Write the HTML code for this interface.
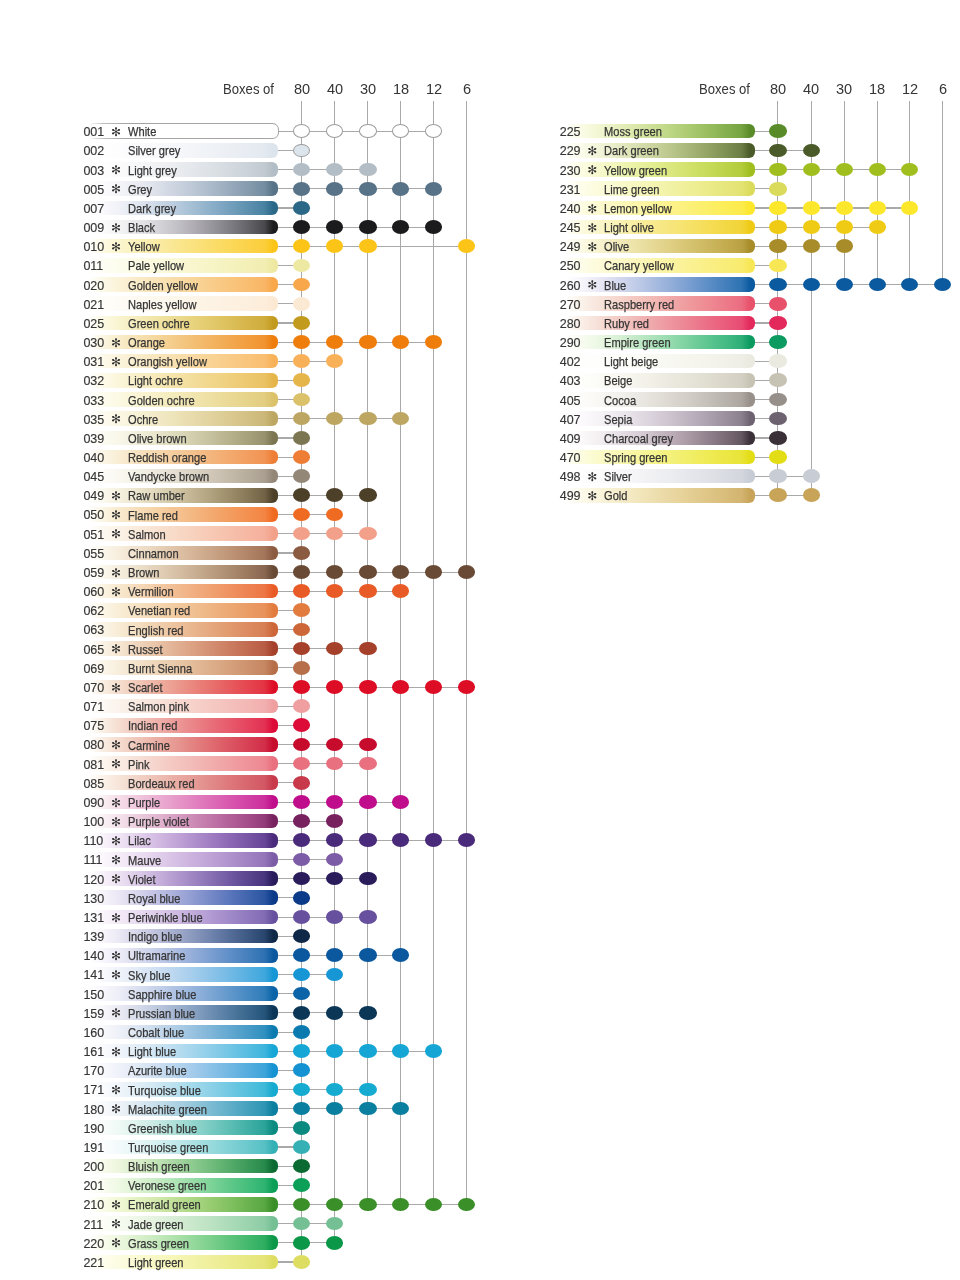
<!DOCTYPE html>
<html><head><meta charset="utf-8"><title>Colour chart</title>
<style>
html,body{margin:0;padding:0;background:#fff;}
body{width:960px;height:1280px;position:relative;overflow:hidden;font-family:"Liberation Sans",Arial,sans-serif;color:#353535;}
div,svg{position:absolute;}
.hd{top:79px;font-size:15.5px;line-height:19px;white-space:nowrap;}
.bx{transform:scaleX(0.845);transform-origin:100% 0;}
.hn{width:30px;text-align:center;transform:scaleX(0.94);transform-origin:50% 0;}
.vl{width:1.1px;background:#a9a9a9;}
.hl{height:1.1px;background:#a9a9a9;}
.bar{width:190.4px;height:14.6px;border-radius:6px;}
.wbar{height:16px!important;width:191.4px!important;border-radius:6.5px!important;background:linear-gradient(90deg,rgba(165,165,165,0) 0%,rgba(165,165,165,.7) 8%,#a5a5a5 20%,#a5a5a5 100%);}
.wbi{left:1.1px;top:1.1px;right:1.1px;bottom:1.1px;background:#fff;border-radius:5.5px;}
.num{-webkit-text-stroke:0.15px #353535;font-size:12.5px;line-height:14px;white-space:nowrap;}
.nm{-webkit-text-stroke:0.25px #353535;font-size:12.4px;line-height:14px;white-space:nowrap;transform:scaleX(0.895);transform-origin:0 0;}
.dot{width:17.2px;height:13.7px;border-radius:50%;}
.st{font-family:"DejaVu Sans",sans-serif;font-size:12px;line-height:20px;color:#333;}
</style></head><body>

<div class="hd bx" style="left:153.5px;width:120px;text-align:right;">Boxes of</div>
<div class="hd hn" style="left:286.7px;">80</div>
<div class="hd hn" style="left:319.9px;">40</div>
<div class="hd hn" style="left:353px;">30</div>
<div class="hd hn" style="left:385.9px;">18</div>
<div class="hd hn" style="left:418.6px;">12</div>
<div class="hd hn" style="left:451.5px;">6</div>
<div class="vl" style="left:301.1px;top:101px;height:1160.88px;"></div>
<div class="vl" style="left:334.3px;top:101px;height:1141.71px;"></div>
<div class="vl" style="left:367.4px;top:101px;height:1103.38px;"></div>
<div class="vl" style="left:400.3px;top:101px;height:1103.38px;"></div>
<div class="vl" style="left:433px;top:101px;height:1103.38px;"></div>
<div class="vl" style="left:465.9px;top:101px;height:1103.38px;"></div>
<div class="hl" style="left:277.4px;top:130.8px;width:156.2px;"></div>
<div class="bar wbar" style="left:87.5px;top:123.3px;"><div class="wbi"></div></div>
<div class="num" style="left:83.4px;top:125.2px;">001</div>
<div class="st" style="left:111px;top:121.9px;">&#x273B;</div>
<div class="nm" style="left:128px;top:125.3px;">White</div>
<div class="dot" style="left:293.1px;top:124.35px;background:#ffffff;border:1px solid #9c9c9c;box-sizing:border-box;"></div>
<div class="dot" style="left:326.3px;top:124.35px;background:#ffffff;border:1px solid #9c9c9c;box-sizing:border-box;"></div>
<div class="dot" style="left:359.4px;top:124.35px;background:#ffffff;border:1px solid #9c9c9c;box-sizing:border-box;"></div>
<div class="dot" style="left:392.3px;top:124.35px;background:#ffffff;border:1px solid #9c9c9c;box-sizing:border-box;"></div>
<div class="dot" style="left:425px;top:124.35px;background:#ffffff;border:1px solid #9c9c9c;box-sizing:border-box;"></div>
<div class="hl" style="left:277.4px;top:149.96px;width:24.3px;"></div>
<div class="bar" style="left:88px;top:143.06px;background:linear-gradient(90deg,#ffffff 0%,#fefeff 8%,#fdfdfe 16%,#fbfbfd 25%,#f9f9fc 35%,#f6f7fa 45%,#f3f5f8 55%,#eff2f6 65%,#ebeff4 75%,#e7ecf2 85%,#e3e9f0 93%,#dce4ec 97.5%);"></div>
<div class="num" style="left:83.4px;top:144.36px;">002</div>
<div class="nm" style="left:128px;top:144.46px;">Silver grey</div>
<div class="dot" style="left:293.1px;top:143.51px;background:#dce4ec;border:1px solid #9c9c9c;box-sizing:border-box;"></div>
<div class="hl" style="left:277.4px;top:169.13px;width:90.6px;"></div>
<div class="bar" style="left:88px;top:162.23px;background:linear-gradient(90deg,#ffffff 0%,#fefefe 8%,#fbfbfc 16%,#f7f8f9 25%,#f2f3f5 35%,#eceef1 45%,#e4e7eb 55%,#dce1e5 65%,#d3d9df 75%,#cad1d8 85%,#c2cad1 93%,#b3bdc5 97.5%);"></div>
<div class="num" style="left:83.4px;top:163.53px;">003</div>
<div class="st" style="left:111px;top:160.23px;">&#x273B;</div>
<div class="nm" style="left:128px;top:163.63px;">Light grey</div>
<div class="dot" style="left:293.1px;top:162.68px;background:#b3bdc5;"></div>
<div class="dot" style="left:326.3px;top:162.68px;background:#b3bdc5;"></div>
<div class="dot" style="left:359.4px;top:162.68px;background:#b3bdc5;"></div>
<div class="hl" style="left:277.4px;top:188.29px;width:156.2px;"></div>
<div class="bar" style="left:88px;top:181.39px;background:linear-gradient(90deg,#ffffff 0%,#fbfbfd 8%,#f5f5f9 16%,#ebedf3 25%,#dee2ea 35%,#ced5e1 45%,#bdc8d6 55%,#abbaca 65%,#97aabc 75%,#849aad 85%,#748da0 93%,#587387 97.5%);"></div>
<div class="num" style="left:83.4px;top:182.69px;">005</div>
<div class="st" style="left:111px;top:179.39px;">&#x273B;</div>
<div class="nm" style="left:128px;top:182.79px;">Grey</div>
<div class="dot" style="left:293.1px;top:181.84px;background:#587387;"></div>
<div class="dot" style="left:326.3px;top:181.84px;background:#587387;"></div>
<div class="dot" style="left:359.4px;top:181.84px;background:#587387;"></div>
<div class="dot" style="left:392.3px;top:181.84px;background:#587387;"></div>
<div class="dot" style="left:425px;top:181.84px;background:#587387;"></div>
<div class="hl" style="left:277.4px;top:207.46px;width:24.3px;"></div>
<div class="bar" style="left:88px;top:200.56px;background:linear-gradient(90deg,#ffffff 0%,#faf9fc 8%,#f0f2f8 16%,#e2e8f1 25%,#d0dbe9 35%,#bbcddf 45%,#a4bfd4 55%,#8cafc9 65%,#739fbc 75%,#5b8fad 85%,#4982a1 93%,#2b6888 97.5%);"></div>
<div class="num" style="left:83.4px;top:201.86px;">007</div>
<div class="nm" style="left:128px;top:201.96px;">Dark grey</div>
<div class="dot" style="left:293.1px;top:201.01px;background:#2b6888;"></div>
<div class="hl" style="left:277.4px;top:226.62px;width:156.2px;"></div>
<div class="bar" style="left:88px;top:219.72px;background:linear-gradient(90deg,#ffffff 0%,#fcfbfc 8%,#f4f4f5 16%,#e9e8eb 25%,#d9d8dc 35%,#c6c5ca 45%,#b1afb5 55%,#98979d 65%,#7e7d83 75%,#616166 85%,#49494d 93%,#1b1b1d 97.5%);"></div>
<div class="num" style="left:83.4px;top:221.02px;">009</div>
<div class="st" style="left:111px;top:217.72px;">&#x273B;</div>
<div class="nm" style="left:128px;top:221.12px;">Black</div>
<div class="dot" style="left:293.1px;top:220.17px;background:#1b1b1d;"></div>
<div class="dot" style="left:326.3px;top:220.17px;background:#1b1b1d;"></div>
<div class="dot" style="left:359.4px;top:220.17px;background:#1b1b1d;"></div>
<div class="dot" style="left:392.3px;top:220.17px;background:#1b1b1d;"></div>
<div class="dot" style="left:425px;top:220.17px;background:#1b1b1d;"></div>
<div class="hl" style="left:277.4px;top:245.78px;width:189.1px;"></div>
<div class="bar" style="left:88px;top:238.88px;background:linear-gradient(90deg,#ffffff 0%,#fdfae3 8%,#fbf6d0 16%,#faf1bc 25%,#faeca8 35%,#fae793 45%,#fae280 55%,#fadd6c 65%,#fbd85a 75%,#fbd248 85%,#fbce3b 93%,#fbc417 97.5%);"></div>
<div class="num" style="left:83.4px;top:240.18px;">010</div>
<div class="st" style="left:111px;top:236.88px;">&#x273B;</div>
<div class="nm" style="left:128px;top:240.28px;">Yellow</div>
<div class="dot" style="left:293.1px;top:239.33px;background:#fbc417;"></div>
<div class="dot" style="left:326.3px;top:239.33px;background:#fbc417;"></div>
<div class="dot" style="left:359.4px;top:239.33px;background:#fbc417;"></div>
<div class="dot" style="left:457.9px;top:239.33px;background:#fbc417;"></div>
<div class="hl" style="left:277.4px;top:264.95px;width:24.3px;"></div>
<div class="bar" style="left:88px;top:258.05px;background:linear-gradient(90deg,#ffffff 0%,#fefef5 8%,#fdfdee 16%,#fcfce7 25%,#fbfadf 35%,#faf8d7 45%,#f9f6ce 55%,#f7f4c6 65%,#f5f2be 75%,#f3efb6 85%,#f2edb1 93%,#eee9a2 97.5%);"></div>
<div class="num" style="left:83.4px;top:259.35px;">011</div>
<div class="nm" style="left:128px;top:259.45px;">Pale yellow</div>
<div class="dot" style="left:293.1px;top:258.5px;background:#eee9a2;"></div>
<div class="hl" style="left:277.4px;top:284.11px;width:24.3px;"></div>
<div class="bar" style="left:88px;top:277.21px;background:linear-gradient(90deg,#ffffff 0%,#fcf9e8 8%,#fbf3d9 16%,#faecca 25%,#f9e4b9 35%,#f8ddaa 45%,#f8d59a 55%,#f9cd8b 65%,#f9c57d 75%,#f9bd70 85%,#f9b666 93%,#f8a74a 97.5%);"></div>
<div class="num" style="left:83.4px;top:278.51px;">020</div>
<div class="nm" style="left:128px;top:278.61px;">Golden yellow</div>
<div class="dot" style="left:293.1px;top:277.66px;background:#f8a74a;"></div>
<div class="hl" style="left:277.4px;top:303.28px;width:24.3px;"></div>
<div class="bar" style="left:88px;top:296.38px;background:linear-gradient(90deg,#ffffff 0%,#fefefa 8%,#fefcf6 16%,#fefaf3 25%,#fdf9ef 35%,#fdf7eb 45%,#fdf5e8 55%,#fdf3e4 65%,#fdf1e1 75%,#fdefdd 85%,#fdeddb 93%,#fce9d4 97.5%);"></div>
<div class="num" style="left:83.4px;top:297.68px;">021</div>
<div class="nm" style="left:128px;top:297.78px;">Naples yellow</div>
<div class="dot" style="left:293.1px;top:296.83px;background:#fce9d4;"></div>
<div class="hl" style="left:277.4px;top:322.44px;width:24.3px;"></div>
<div class="bar" style="left:88px;top:315.54px;background:linear-gradient(90deg,#ffffff 0%,#fcfae4 8%,#f9f4d1 16%,#f6edbd 25%,#f2e5a8 35%,#eddc93 45%,#e8d37e 55%,#e2c96b 65%,#dcbf59 75%,#d5b448 85%,#cfac3b 93%,#c29a1e 97.5%);"></div>
<div class="num" style="left:83.4px;top:316.84px;">025</div>
<div class="nm" style="left:128px;top:316.94px;">Green ochre</div>
<div class="dot" style="left:293.1px;top:315.99px;background:#c29a1e;"></div>
<div class="hl" style="left:277.4px;top:341.6px;width:156.2px;"></div>
<div class="bar" style="left:88px;top:334.7px;background:linear-gradient(90deg,#ffffff 0%,#fbf6e0 8%,#f9edcc 16%,#f7e3b6 25%,#f5d8a0 35%,#f4cc8a 45%,#f3c076 55%,#f3b462 65%,#f2a84f 75%,#f29c3d 85%,#f19330 93%,#ee7d0c 97.5%);"></div>
<div class="num" style="left:83.4px;top:336px;">030</div>
<div class="st" style="left:111px;top:332.7px;">&#x273B;</div>
<div class="nm" style="left:128px;top:336.1px;">Orange</div>
<div class="dot" style="left:293.1px;top:335.15px;background:#ee7d0c;"></div>
<div class="dot" style="left:326.3px;top:335.15px;background:#ee7d0c;"></div>
<div class="dot" style="left:359.4px;top:335.15px;background:#ee7d0c;"></div>
<div class="dot" style="left:392.3px;top:335.15px;background:#ee7d0c;"></div>
<div class="dot" style="left:425px;top:335.15px;background:#ee7d0c;"></div>
<div class="hl" style="left:277.4px;top:360.77px;width:57.5px;"></div>
<div class="bar" style="left:88px;top:353.87px;background:linear-gradient(90deg,#ffffff 0%,#fdf9ea 8%,#fbf4dd 16%,#faeece 25%,#f9e7bf 35%,#f9e1b1 45%,#f9daa2 55%,#f9d395 65%,#f9cb87 75%,#f9c47b 85%,#f9be71 93%,#f8b158 97.5%);"></div>
<div class="num" style="left:83.4px;top:355.17px;">031</div>
<div class="st" style="left:111px;top:351.87px;">&#x273B;</div>
<div class="nm" style="left:128px;top:355.27px;">Orangish yellow</div>
<div class="dot" style="left:293.1px;top:354.32px;background:#f8b158;"></div>
<div class="dot" style="left:326.3px;top:354.32px;background:#f8b158;"></div>
<div class="hl" style="left:277.4px;top:379.93px;width:24.3px;"></div>
<div class="bar" style="left:88px;top:373.03px;background:linear-gradient(90deg,#ffffff 0%,#fdfae9 8%,#fbf6db 16%,#f9f0cb 25%,#f7eabb 35%,#f5e4ab 45%,#f3dd9b 55%,#f1d68b 65%,#efcf7d 75%,#edc86f 85%,#eac264 93%,#e5b54a 97.5%);"></div>
<div class="num" style="left:83.4px;top:374.33px;">032</div>
<div class="nm" style="left:128px;top:374.43px;">Light ochre</div>
<div class="dot" style="left:293.1px;top:373.48px;background:#e5b54a;"></div>
<div class="hl" style="left:277.4px;top:399.1px;width:24.3px;"></div>
<div class="bar" style="left:88px;top:392.2px;background:linear-gradient(90deg,#ffffff 0%,#fdfcef 8%,#fcf9e3 16%,#faf5d7 25%,#f7f0c9 35%,#f4ebbc 45%,#f1e5af 55%,#eedfa2 65%,#ead995 75%,#e6d389 85%,#e2cd80 93%,#dbc26a 97.5%);"></div>
<div class="num" style="left:83.4px;top:393.5px;">033</div>
<div class="nm" style="left:128px;top:393.6px;">Golden ochre</div>
<div class="dot" style="left:293.1px;top:392.65px;background:#dbc26a;"></div>
<div class="hl" style="left:277.4px;top:418.26px;width:123.5px;"></div>
<div class="bar" style="left:88px;top:411.36px;background:linear-gradient(90deg,#ffffff 0%,#fdfbef 8%,#faf7e4 16%,#f7f2d7 25%,#f3ebc9 35%,#ede4ba 45%,#e8dbac 55%,#e1d29e 65%,#dac990 75%,#d2bf83 85%,#cbb778 93%,#bda662 97.5%);"></div>
<div class="num" style="left:83.4px;top:412.66px;">035</div>
<div class="st" style="left:111px;top:409.36px;">&#x273B;</div>
<div class="nm" style="left:128px;top:412.76px;">Ochre</div>
<div class="dot" style="left:293.1px;top:411.81px;background:#bda662;"></div>
<div class="dot" style="left:326.3px;top:411.81px;background:#bda662;"></div>
<div class="dot" style="left:359.4px;top:411.81px;background:#bda662;"></div>
<div class="dot" style="left:392.3px;top:411.81px;background:#bda662;"></div>
<div class="hl" style="left:277.4px;top:437.42px;width:24.3px;"></div>
<div class="bar" style="left:88px;top:430.52px;background:linear-gradient(90deg,#ffffff 0%,#fdfcf3 8%,#f8f7e9 16%,#f2f0dd 25%,#eae7ce 35%,#dfdbbe 45%,#d3cfae 55%,#c5c09d 65%,#b6b08b 75%,#a59f7a 85%,#97916d 93%,#7b7552 97.5%);"></div>
<div class="num" style="left:83.4px;top:431.82px;">039</div>
<div class="nm" style="left:128px;top:431.92px;">Olive brown</div>
<div class="dot" style="left:293.1px;top:430.97px;background:#7b7552;"></div>
<div class="hl" style="left:277.4px;top:456.59px;width:24.3px;"></div>
<div class="bar" style="left:88px;top:449.69px;background:linear-gradient(90deg,#ffffff 0%,#fcf6e6 8%,#f9eed5 16%,#f7e4c3 25%,#f6d9b0 35%,#f5cd9f 45%,#f4c18d 55%,#f3b57d 65%,#f3a96d 75%,#f29d5f 85%,#f19454 93%,#ee7e36 97.5%);"></div>
<div class="num" style="left:83.4px;top:450.99px;">040</div>
<div class="nm" style="left:128px;top:451.09px;">Reddish orange</div>
<div class="dot" style="left:293.1px;top:450.14px;background:#ee7e36;"></div>
<div class="hl" style="left:277.4px;top:475.75px;width:24.3px;"></div>
<div class="bar" style="left:88px;top:468.85px;background:linear-gradient(90deg,#ffffff 0%,#fdfcf8 8%,#faf8f1 16%,#f5f2e8 25%,#ede9de 35%,#e5dfd2 45%,#dbd4c5 55%,#d0c7b8 65%,#c3baaa 75%,#b6ac9c 85%,#aa9f90 93%,#938878 97.5%);"></div>
<div class="num" style="left:83.4px;top:470.15px;">045</div>
<div class="nm" style="left:128px;top:470.25px;">Vandycke brown</div>
<div class="dot" style="left:293.1px;top:469.3px;background:#938878;"></div>
<div class="hl" style="left:277.4px;top:494.92px;width:90.6px;"></div>
<div class="bar" style="left:88px;top:488.02px;background:linear-gradient(90deg,#ffffff 0%,#fbf9ee 8%,#f6f2e0 16%,#ede7d0 25%,#e1d8bc 35%,#d3c8a8 45%,#c3b593 55%,#b0a27e 65%,#9c8c69 75%,#857655 85%,#726346 93%,#4c4029 97.5%);"></div>
<div class="num" style="left:83.4px;top:489.32px;">049</div>
<div class="st" style="left:111px;top:486.02px;">&#x273B;</div>
<div class="nm" style="left:128px;top:489.42px;">Raw umber</div>
<div class="dot" style="left:293.1px;top:488.47px;background:#4c4029;"></div>
<div class="dot" style="left:326.3px;top:488.47px;background:#4c4029;"></div>
<div class="dot" style="left:359.4px;top:488.47px;background:#4c4029;"></div>
<div class="hl" style="left:277.4px;top:514.08px;width:57.5px;"></div>
<div class="bar" style="left:88px;top:507.18px;background:linear-gradient(90deg,#ffffff 0%,#fbf5e3 8%,#f9ebd0 16%,#f7dfbc 25%,#f5d3a8 35%,#f4c594 45%,#f4b882 55%,#f3aa70 65%,#f39c5f 75%,#f38f4f 85%,#f38443 93%,#f06b22 97.5%);"></div>
<div class="num" style="left:83.4px;top:508.48px;">050</div>
<div class="st" style="left:111px;top:505.18px;">&#x273B;</div>
<div class="nm" style="left:128px;top:508.58px;">Flame red</div>
<div class="dot" style="left:293.1px;top:507.63px;background:#f06b22;"></div>
<div class="dot" style="left:326.3px;top:507.63px;background:#f06b22;"></div>
<div class="hl" style="left:277.4px;top:533.24px;width:90.6px;"></div>
<div class="bar" style="left:88px;top:526.34px;background:linear-gradient(90deg,#ffffff 0%,#fdf9f1 8%,#fbf3e7 16%,#faecdc 25%,#f9e3d2 35%,#f8dbc8 45%,#f7d2be 55%,#f7c9b4 65%,#f6c0ab 75%,#f6b7a2 85%,#f5b09c 93%,#f3a08a 97.5%);"></div>
<div class="num" style="left:83.4px;top:527.64px;">051</div>
<div class="st" style="left:111px;top:524.34px;">&#x273B;</div>
<div class="nm" style="left:128px;top:527.74px;">Salmon</div>
<div class="dot" style="left:293.1px;top:526.79px;background:#f3a08a;"></div>
<div class="dot" style="left:326.3px;top:526.79px;background:#f3a08a;"></div>
<div class="dot" style="left:359.4px;top:526.79px;background:#f3a08a;"></div>
<div class="hl" style="left:277.4px;top:552.41px;width:24.3px;"></div>
<div class="bar" style="left:88px;top:545.51px;background:linear-gradient(90deg,#ffffff 0%,#fbf7ec 8%,#f7eede 16%,#f1e3ce 25%,#e9d5bc 35%,#e0c5aa 45%,#d6b598 55%,#caa587 65%,#be9476 75%,#b08366 85%,#a3755a 93%,#8b5b41 97.5%);"></div>
<div class="num" style="left:83.4px;top:546.81px;">055</div>
<div class="nm" style="left:128px;top:546.91px;">Cinnamon</div>
<div class="dot" style="left:293.1px;top:545.96px;background:#8b5b41;"></div>
<div class="hl" style="left:277.4px;top:571.57px;width:189.1px;"></div>
<div class="bar" style="left:88px;top:564.67px;background:linear-gradient(90deg,#ffffff 0%,#fbf8ed 8%,#f6efdf 16%,#eee3ce 25%,#e4d3bb 35%,#d9c3a8 45%,#cbb195 55%,#bc9e82 65%,#ab8b6f 75%,#99775d 85%,#896750 93%,#694a35 97.5%);"></div>
<div class="num" style="left:83.4px;top:565.97px;">059</div>
<div class="st" style="left:111px;top:562.67px;">&#x273B;</div>
<div class="nm" style="left:128px;top:566.07px;">Brown</div>
<div class="dot" style="left:293.1px;top:565.12px;background:#694a35;"></div>
<div class="dot" style="left:326.3px;top:565.12px;background:#694a35;"></div>
<div class="dot" style="left:359.4px;top:565.12px;background:#694a35;"></div>
<div class="dot" style="left:392.3px;top:565.12px;background:#694a35;"></div>
<div class="dot" style="left:425px;top:565.12px;background:#694a35;"></div>
<div class="dot" style="left:457.9px;top:565.12px;background:#694a35;"></div>
<div class="hl" style="left:277.4px;top:590.74px;width:123.5px;"></div>
<div class="bar" style="left:88px;top:583.84px;background:linear-gradient(90deg,#ffffff 0%,#fbf4e3 8%,#f8e9d0 16%,#f6dcbd 25%,#f4cea9 35%,#f2bf95 45%,#f1b083 55%,#f0a171 65%,#ef9161 75%,#ee8251 85%,#ed7645 93%,#e95b26 97.5%);"></div>
<div class="num" style="left:83.4px;top:585.14px;">060</div>
<div class="st" style="left:111px;top:581.84px;">&#x273B;</div>
<div class="nm" style="left:128px;top:585.24px;">Vermilion</div>
<div class="dot" style="left:293.1px;top:584.29px;background:#e95b26;"></div>
<div class="dot" style="left:326.3px;top:584.29px;background:#e95b26;"></div>
<div class="dot" style="left:359.4px;top:584.29px;background:#e95b26;"></div>
<div class="dot" style="left:392.3px;top:584.29px;background:#e95b26;"></div>
<div class="hl" style="left:277.4px;top:609.9px;width:24.3px;"></div>
<div class="bar" style="left:88px;top:603px;background:linear-gradient(90deg,#ffffff 0%,#fcf6e7 8%,#f9eed7 16%,#f7e4c6 25%,#f4d8b4 35%,#f2cda2 45%,#f0c192 55%,#eeb482 65%,#eca873 75%,#ea9b64 85%,#e8925a 93%,#e27c3e 97.5%);"></div>
<div class="num" style="left:83.4px;top:604.3px;">062</div>
<div class="nm" style="left:128px;top:604.4px;">Venetian red</div>
<div class="dot" style="left:293.1px;top:603.45px;background:#e27c3e;"></div>
<div class="hl" style="left:277.4px;top:629.06px;width:24.3px;"></div>
<div class="bar" style="left:88px;top:622.16px;background:linear-gradient(90deg,#ffffff 0%,#fbf5e7 8%,#f8ecd6 16%,#f4e0c4 25%,#f1d2b1 35%,#edc49f 45%,#e9b68e 55%,#e5a77d 65%,#e1996d 75%,#dc8a5f 85%,#d77f54 93%,#cd6739 97.5%);"></div>
<div class="num" style="left:83.4px;top:623.46px;">063</div>
<div class="nm" style="left:128px;top:623.56px;">English red</div>
<div class="dot" style="left:293.1px;top:622.61px;background:#cd6739;"></div>
<div class="hl" style="left:277.4px;top:648.23px;width:90.6px;"></div>
<div class="bar" style="left:88px;top:641.33px;background:linear-gradient(90deg,#ffffff 0%,#faf3e5 8%,#f6e7d3 16%,#f0d7bf 25%,#eac6aa 35%,#e3b396 45%,#dca183 55%,#d38e71 65%,#cb7c60 75%,#c16a50 85%,#b85c45 93%,#a5412b 97.5%);"></div>
<div class="num" style="left:83.4px;top:642.63px;">065</div>
<div class="st" style="left:111px;top:639.33px;">&#x273B;</div>
<div class="nm" style="left:128px;top:642.73px;">Russet</div>
<div class="dot" style="left:293.1px;top:641.78px;background:#a5412b;"></div>
<div class="dot" style="left:326.3px;top:641.78px;background:#a5412b;"></div>
<div class="dot" style="left:359.4px;top:641.78px;background:#a5412b;"></div>
<div class="hl" style="left:277.4px;top:667.39px;width:24.3px;"></div>
<div class="bar" style="left:88px;top:660.49px;background:linear-gradient(90deg,#ffffff 0%,#fcf7eb 8%,#f8eedc 16%,#f4e4cc 25%,#efd7bb 35%,#e9caaa 45%,#e3bc9a 55%,#ddae8a 65%,#d5a07b 75%,#cd916d 85%,#c68662 93%,#b76f4a 97.5%);"></div>
<div class="num" style="left:83.4px;top:661.79px;">069</div>
<div class="nm" style="left:128px;top:661.89px;">Burnt Sienna</div>
<div class="dot" style="left:293.1px;top:660.94px;background:#b76f4a;"></div>
<div class="hl" style="left:277.4px;top:686.56px;width:189.1px;"></div>
<div class="bar" style="left:88px;top:679.66px;background:linear-gradient(90deg,#ffffff 0%,#faefe2 8%,#f5dece 16%,#f2cbba 25%,#eeb5a5 35%,#ec9e91 45%,#ea877e 55%,#e8716d 65%,#e75a5d 75%,#e5444e 85%,#e33343 93%,#dc0d25 97.5%);"></div>
<div class="num" style="left:83.4px;top:680.96px;">070</div>
<div class="st" style="left:111px;top:677.66px;">&#x273B;</div>
<div class="nm" style="left:128px;top:681.06px;">Scarlet</div>
<div class="dot" style="left:293.1px;top:680.11px;background:#dc0d25;"></div>
<div class="dot" style="left:326.3px;top:680.11px;background:#dc0d25;"></div>
<div class="dot" style="left:359.4px;top:680.11px;background:#dc0d25;"></div>
<div class="dot" style="left:392.3px;top:680.11px;background:#dc0d25;"></div>
<div class="dot" style="left:425px;top:680.11px;background:#dc0d25;"></div>
<div class="dot" style="left:457.9px;top:680.11px;background:#dc0d25;"></div>
<div class="hl" style="left:277.4px;top:705.72px;width:24.3px;"></div>
<div class="bar" style="left:88px;top:698.82px;background:linear-gradient(90deg,#ffffff 0%,#fdf9f4 8%,#fbf3ec 16%,#faece3 25%,#f8e4db 35%,#f7dbd2 45%,#f6d2ca 55%,#f5c9c3 65%,#f4c0bb 75%,#f3b7b4 85%,#f2afaf 93%,#ef9fa0 97.5%);"></div>
<div class="num" style="left:83.4px;top:700.12px;">071</div>
<div class="nm" style="left:128px;top:700.22px;">Salmon pink</div>
<div class="dot" style="left:293.1px;top:699.27px;background:#ef9fa0;"></div>
<div class="hl" style="left:277.4px;top:724.88px;width:24.3px;"></div>
<div class="bar" style="left:88px;top:717.98px;background:linear-gradient(90deg,#ffffff 0%,#faefe4 8%,#f6ded2 16%,#f2cabf 25%,#efb4ac 35%,#ec9d9a 45%,#ea8689 55%,#e86f79 65%,#e7596b 75%,#e5425d 85%,#e33153 93%,#dc0b37 97.5%);"></div>
<div class="num" style="left:83.4px;top:719.28px;">075</div>
<div class="nm" style="left:128px;top:719.38px;">Indian red</div>
<div class="dot" style="left:293.1px;top:718.43px;background:#dc0b37;"></div>
<div class="hl" style="left:277.4px;top:744.05px;width:90.6px;"></div>
<div class="bar" style="left:88px;top:737.15px;background:linear-gradient(90deg,#ffffff 0%,#f9eee3 8%,#f5ddd0 16%,#f0c9bc 25%,#ebb2a8 35%,#e79b94 45%,#e38382 55%,#e06c71 65%,#db5562 75%,#d73f53 85%,#d22e49 93%,#c70b2d 97.5%);"></div>
<div class="num" style="left:83.4px;top:738.45px;">080</div>
<div class="st" style="left:111px;top:735.15px;">&#x273B;</div>
<div class="nm" style="left:128px;top:738.55px;">Carmine</div>
<div class="dot" style="left:293.1px;top:737.6px;background:#c70b2d;"></div>
<div class="dot" style="left:326.3px;top:737.6px;background:#c70b2d;"></div>
<div class="dot" style="left:359.4px;top:737.6px;background:#c70b2d;"></div>
<div class="hl" style="left:277.4px;top:763.21px;width:90.6px;"></div>
<div class="bar" style="left:88px;top:756.31px;background:linear-gradient(90deg,#ffffff 0%,#fcf6ef 8%,#faede4 16%,#f7e2d9 25%,#f5d5cd 35%,#f4c8c1 45%,#f2bbb7 55%,#f1aeac 65%,#f0a0a2 75%,#ef9299 85%,#ed8892 93%,#e9707f 97.5%);"></div>
<div class="num" style="left:83.4px;top:757.61px;">081</div>
<div class="st" style="left:111px;top:754.31px;">&#x273B;</div>
<div class="nm" style="left:128px;top:757.71px;">Pink</div>
<div class="dot" style="left:293.1px;top:756.76px;background:#e9707f;"></div>
<div class="dot" style="left:326.3px;top:756.76px;background:#e9707f;"></div>
<div class="dot" style="left:359.4px;top:756.76px;background:#e9707f;"></div>
<div class="hl" style="left:277.4px;top:782.38px;width:24.3px;"></div>
<div class="bar" style="left:88px;top:775.48px;background:linear-gradient(90deg,#ffffff 0%,#fbf2e9 8%,#f7e5d9 16%,#f2d5c9 25%,#eec3b7 35%,#eab0a7 45%,#e69d97 55%,#e18a89 65%,#dd777b 75%,#d7656d 85%,#d25764 93%,#c7394b 97.5%);"></div>
<div class="num" style="left:83.4px;top:776.78px;">085</div>
<div class="nm" style="left:128px;top:776.88px;">Bordeaux red</div>
<div class="dot" style="left:293.1px;top:775.93px;background:#c7394b;"></div>
<div class="hl" style="left:277.4px;top:801.54px;width:123.5px;"></div>
<div class="bar" style="left:88px;top:794.64px;background:linear-gradient(90deg,#ffffff 0%,#faeff2 8%,#f6dee9 16%,#f1cbdf 25%,#ecb3d4 35%,#e79cca 45%,#e284c0 55%,#dd6db7 65%,#d856ae 75%,#d140a4 85%,#cc2f9d 93%,#bf0d8b 97.5%);"></div>
<div class="num" style="left:83.4px;top:795.94px;">090</div>
<div class="st" style="left:111px;top:792.64px;">&#x273B;</div>
<div class="nm" style="left:128px;top:796.04px;">Purple</div>
<div class="dot" style="left:293.1px;top:795.09px;background:#bf0d8b;"></div>
<div class="dot" style="left:326.3px;top:795.09px;background:#bf0d8b;"></div>
<div class="dot" style="left:359.4px;top:795.09px;background:#bf0d8b;"></div>
<div class="dot" style="left:392.3px;top:795.09px;background:#bf0d8b;"></div>
<div class="hl" style="left:277.4px;top:820.7px;width:57.5px;"></div>
<div class="bar" style="left:88px;top:813.8px;background:linear-gradient(90deg,#ffffff 0%,#faf2f5 8%,#f4e3eb 16%,#edd0e0 25%,#e3bad2 35%,#d9a3c5 45%,#cd8cb6 55%,#c075a8 65%,#b25f98 75%,#a24b88 85%,#933c7a 93%,#77215f 97.5%);"></div>
<div class="num" style="left:83.4px;top:815.1px;">100</div>
<div class="st" style="left:111px;top:811.8px;">&#x273B;</div>
<div class="nm" style="left:128px;top:815.2px;">Purple violet</div>
<div class="dot" style="left:293.1px;top:814.25px;background:#77215f;"></div>
<div class="dot" style="left:326.3px;top:814.25px;background:#77215f;"></div>
<div class="hl" style="left:277.4px;top:839.87px;width:189.1px;"></div>
<div class="bar" style="left:88px;top:832.97px;background:linear-gradient(90deg,#ffffff 0%,#f9f3fb 8%,#f0e5f5 16%,#e5d3ed 25%,#d5bee4 35%,#c4a8d9 45%,#b292ce 55%,#9f7cc1 65%,#8b67b4 75%,#7754a4 85%,#674597 93%,#4a2a7b 97.5%);"></div>
<div class="num" style="left:83.4px;top:834.27px;">110</div>
<div class="st" style="left:111px;top:830.97px;">&#x273B;</div>
<div class="nm" style="left:128px;top:834.37px;">Lilac</div>
<div class="dot" style="left:293.1px;top:833.42px;background:#4a2a7b;"></div>
<div class="dot" style="left:326.3px;top:833.42px;background:#4a2a7b;"></div>
<div class="dot" style="left:359.4px;top:833.42px;background:#4a2a7b;"></div>
<div class="dot" style="left:392.3px;top:833.42px;background:#4a2a7b;"></div>
<div class="dot" style="left:425px;top:833.42px;background:#4a2a7b;"></div>
<div class="dot" style="left:457.9px;top:833.42px;background:#4a2a7b;"></div>
<div class="hl" style="left:277.4px;top:859.03px;width:57.5px;"></div>
<div class="bar" style="left:88px;top:852.13px;background:linear-gradient(90deg,#ffffff 0%,#fbf7fc 8%,#f5edf8 16%,#eee1f3 25%,#e3d2ed 35%,#d8c2e6 45%,#cbb2de 55%,#bea2d6 65%,#af92cc 75%,#a081c2 85%,#9475b9 93%,#7d5ca7 97.5%);"></div>
<div class="num" style="left:83.4px;top:853.43px;">111</div>
<div class="st" style="left:111px;top:850.13px;">&#x273B;</div>
<div class="nm" style="left:128px;top:853.53px;">Mauve</div>
<div class="dot" style="left:293.1px;top:852.58px;background:#7d5ca7;"></div>
<div class="dot" style="left:326.3px;top:852.58px;background:#7d5ca7;"></div>
<div class="hl" style="left:277.4px;top:878.2px;width:90.6px;"></div>
<div class="bar" style="left:88px;top:871.3px;background:linear-gradient(90deg,#ffffff 0%,#f8f2fa 8%,#ede2f3 16%,#deceea 25%,#cbb6de 35%,#b69ed1 45%,#9f86c3 55%,#886fb3 65%,#7058a2 75%,#59448e 85%,#47357d 93%,#2a1b5b 97.5%);"></div>
<div class="num" style="left:83.4px;top:872.6px;">120</div>
<div class="st" style="left:111px;top:869.3px;">&#x273B;</div>
<div class="nm" style="left:128px;top:872.7px;">Violet</div>
<div class="dot" style="left:293.1px;top:871.75px;background:#2a1b5b;"></div>
<div class="dot" style="left:326.3px;top:871.75px;background:#2a1b5b;"></div>
<div class="dot" style="left:359.4px;top:871.75px;background:#2a1b5b;"></div>
<div class="hl" style="left:277.4px;top:897.36px;width:24.3px;"></div>
<div class="bar" style="left:88px;top:890.46px;background:linear-gradient(90deg,#ffffff 0%,#f7f4fb 8%,#ebe7f5 16%,#dad7ee 25%,#c4c3e5 35%,#abb0dc 45%,#909cd2 55%,#7588c7 65%,#5975bb 75%,#3f63ad 85%,#2b55a1 93%,#0b3a89 97.5%);"></div>
<div class="num" style="left:83.4px;top:891.76px;">130</div>
<div class="nm" style="left:128px;top:891.86px;">Royal blue</div>
<div class="dot" style="left:293.1px;top:890.91px;background:#0b3a89;"></div>
<div class="hl" style="left:277.4px;top:916.52px;width:90.6px;"></div>
<div class="bar" style="left:88px;top:909.62px;background:linear-gradient(90deg,#ffffff 0%,#faf6fc 8%,#f4ebf7 16%,#eadef2 25%,#deceeb 35%,#d0bde3 45%,#c1acdb 55%,#b19ad2 65%,#a089c8 75%,#8f78bd 85%,#816bb3 93%,#67519f 97.5%);"></div>
<div class="num" style="left:83.4px;top:910.92px;">131</div>
<div class="st" style="left:111px;top:907.62px;">&#x273B;</div>
<div class="nm" style="left:128px;top:911.02px;">Periwinkle blue</div>
<div class="dot" style="left:293.1px;top:910.07px;background:#67519f;"></div>
<div class="dot" style="left:326.3px;top:910.07px;background:#67519f;"></div>
<div class="dot" style="left:359.4px;top:910.07px;background:#67519f;"></div>
<div class="hl" style="left:277.4px;top:935.69px;width:24.3px;"></div>
<div class="bar" style="left:88px;top:928.79px;background:linear-gradient(90deg,#ffffff 0%,#f8f5fb 8%,#ebe9f4 16%,#d9d8ea 25%,#c1c4dd 35%,#a7afcf 45%,#8b99be 55%,#6f83ac 65%,#546d98 75%,#3b5782 85%,#29466e 93%,#0f2848 97.5%);"></div>
<div class="num" style="left:83.4px;top:930.09px;">139</div>
<div class="nm" style="left:128px;top:930.19px;">Indigo blue</div>
<div class="dot" style="left:293.1px;top:929.24px;background:#0f2848;"></div>
<div class="hl" style="left:277.4px;top:954.85px;width:123.5px;"></div>
<div class="bar" style="left:88px;top:947.95px;background:linear-gradient(90deg,#ffffff 0%,#f8f6fc 8%,#edecf7 16%,#dddff1 25%,#c7cfea 35%,#afbfe2 45%,#95aed9 55%,#7a9ed1 65%,#5e8ec7 75%,#437ebc 85%,#2e71b3 93%,#0b589f 97.5%);"></div>
<div class="num" style="left:83.4px;top:949.25px;">140</div>
<div class="st" style="left:111px;top:945.95px;">&#x273B;</div>
<div class="nm" style="left:128px;top:949.35px;">Ultramarine</div>
<div class="dot" style="left:293.1px;top:948.4px;background:#0b589f;"></div>
<div class="dot" style="left:326.3px;top:948.4px;background:#0b589f;"></div>
<div class="dot" style="left:359.4px;top:948.4px;background:#0b589f;"></div>
<div class="dot" style="left:392.3px;top:948.4px;background:#0b589f;"></div>
<div class="hl" style="left:277.4px;top:974.02px;width:57.5px;"></div>
<div class="bar" style="left:88px;top:967.12px;background:linear-gradient(90deg,#ffffff 0%,#f9f9fd 8%,#f0f3fa 16%,#e3ebf7 25%,#d1e1f3 35%,#bcd7ef 45%,#a5cdec 55%,#8cc3e8 65%,#71b9e5 75%,#55afe1 85%,#3fa7dd 93%,#1696d5 97.5%);"></div>
<div class="num" style="left:83.4px;top:968.42px;">141</div>
<div class="st" style="left:111px;top:965.12px;">&#x273B;</div>
<div class="nm" style="left:128px;top:968.52px;">Sky blue</div>
<div class="dot" style="left:293.1px;top:967.57px;background:#1696d5;"></div>
<div class="dot" style="left:326.3px;top:967.57px;background:#1696d5;"></div>
<div class="hl" style="left:277.4px;top:993.18px;width:24.3px;"></div>
<div class="bar" style="left:88px;top:986.28px;background:linear-gradient(90deg,#ffffff 0%,#f8f7fc 8%,#edeef7 16%,#dde2f2 25%,#c8d3eb 35%,#b1c4e4 45%,#97b5dc 55%,#7ca6d4 65%,#6097cb 75%,#4488c2 85%,#2f7cb9 93%,#0b64a7 97.5%);"></div>
<div class="num" style="left:83.4px;top:987.58px;">150</div>
<div class="nm" style="left:128px;top:987.68px;">Sapphire blue</div>
<div class="dot" style="left:293.1px;top:986.73px;background:#0b64a7;"></div>
<div class="hl" style="left:277.4px;top:1012.34px;width:90.6px;"></div>
<div class="bar" style="left:88px;top:1005.44px;background:linear-gradient(90deg,#ffffff 0%,#f8f7fb 8%,#ebebf4 16%,#d9ddeb 25%,#c1cbe0 35%,#a6b7d2 45%,#8aa3c3 55%,#6d8eb2 65%,#517aa0 75%,#37658b 85%,#25547a 93%,#0b3656 97.5%);"></div>
<div class="num" style="left:83.4px;top:1006.74px;">159</div>
<div class="st" style="left:111px;top:1003.44px;">&#x273B;</div>
<div class="nm" style="left:128px;top:1006.84px;">Prussian blue</div>
<div class="dot" style="left:293.1px;top:1005.89px;background:#0b3656;"></div>
<div class="dot" style="left:326.3px;top:1005.89px;background:#0b3656;"></div>
<div class="dot" style="left:359.4px;top:1005.89px;background:#0b3656;"></div>
<div class="hl" style="left:277.4px;top:1031.51px;width:24.3px;"></div>
<div class="bar" style="left:88px;top:1024.61px;background:linear-gradient(90deg,#ffffff 0%,#f9f9fc 8%,#eef1f8 16%,#dfe7f3 25%,#cadbed 35%,#b3cfe7 45%,#99c2e0 55%,#7eb5d8 65%,#62a8d0 75%,#469ac7 85%,#3090bf 93%,#0b7aaf 97.5%);"></div>
<div class="num" style="left:83.4px;top:1025.91px;">160</div>
<div class="nm" style="left:128px;top:1026.01px;">Cobalt blue</div>
<div class="dot" style="left:293.1px;top:1025.06px;background:#0b7aaf;"></div>
<div class="hl" style="left:277.4px;top:1050.67px;width:156.2px;"></div>
<div class="bar" style="left:88px;top:1043.77px;background:linear-gradient(90deg,#ffffff 0%,#fafafd 8%,#f1f5fb 16%,#e3eef7 25%,#d1e6f4 35%,#bcdef0 45%,#a5d6ed 55%,#8ccde9 65%,#71c5e5 75%,#55bce1 85%,#3eb5dd 93%,#15a6d5 97.5%);"></div>
<div class="num" style="left:83.4px;top:1045.07px;">161</div>
<div class="st" style="left:111px;top:1041.77px;">&#x273B;</div>
<div class="nm" style="left:128px;top:1045.17px;">Light blue</div>
<div class="dot" style="left:293.1px;top:1044.22px;background:#15a6d5;"></div>
<div class="dot" style="left:326.3px;top:1044.22px;background:#15a6d5;"></div>
<div class="dot" style="left:359.4px;top:1044.22px;background:#15a6d5;"></div>
<div class="dot" style="left:392.3px;top:1044.22px;background:#15a6d5;"></div>
<div class="dot" style="left:425px;top:1044.22px;background:#15a6d5;"></div>
<div class="hl" style="left:277.4px;top:1069.84px;width:24.3px;"></div>
<div class="bar" style="left:88px;top:1062.94px;background:linear-gradient(90deg,#ffffff 0%,#f9f9fd 8%,#f0f2fa 16%,#e2eaf6 25%,#d0e0f2 35%,#bbd6ee 45%,#a4cbeb 55%,#8ac1e7 65%,#6fb7e3 75%,#54acde 85%,#3ea4da 93%,#1592d1 97.5%);"></div>
<div class="num" style="left:83.4px;top:1064.24px;">170</div>
<div class="nm" style="left:128px;top:1064.34px;">Azurite blue</div>
<div class="dot" style="left:293.1px;top:1063.39px;background:#1592d1;"></div>
<div class="hl" style="left:277.4px;top:1089px;width:90.6px;"></div>
<div class="bar" style="left:88px;top:1082.1px;background:linear-gradient(90deg,#ffffff 0%,#fafbfd 8%,#f1f6fb 16%,#e3f0f7 25%,#d1e8f3 35%,#bce1ef 45%,#a4d9eb 55%,#8bd0e7 65%,#70c8e2 75%,#54c0dd 85%,#3eb9d9 93%,#15aacf 97.5%);"></div>
<div class="num" style="left:83.4px;top:1083.4px;">171</div>
<div class="st" style="left:111px;top:1080.1px;">&#x273B;</div>
<div class="nm" style="left:128px;top:1083.5px;">Turquoise blue</div>
<div class="dot" style="left:293.1px;top:1082.55px;background:#15aacf;"></div>
<div class="dot" style="left:326.3px;top:1082.55px;background:#15aacf;"></div>
<div class="dot" style="left:359.4px;top:1082.55px;background:#15aacf;"></div>
<div class="hl" style="left:277.4px;top:1108.16px;width:123.5px;"></div>
<div class="bar" style="left:88px;top:1101.26px;background:linear-gradient(90deg,#ffffff 0%,#f9fafc 8%,#eef3f8 16%,#dfebf3 25%,#c9e0ec 35%,#b1d4e4 45%,#97c8db 55%,#7bbbd2 65%,#5faec8 75%,#43a0bd 85%,#2e95b3 93%,#0b7f9f 97.5%);"></div>
<div class="num" style="left:83.4px;top:1102.56px;">180</div>
<div class="st" style="left:111px;top:1099.26px;">&#x273B;</div>
<div class="nm" style="left:128px;top:1102.66px;">Malachite green</div>
<div class="dot" style="left:293.1px;top:1101.71px;background:#0b7f9f;"></div>
<div class="dot" style="left:326.3px;top:1101.71px;background:#0b7f9f;"></div>
<div class="dot" style="left:359.4px;top:1101.71px;background:#0b7f9f;"></div>
<div class="dot" style="left:392.3px;top:1101.71px;background:#0b7f9f;"></div>
<div class="hl" style="left:277.4px;top:1127.33px;width:24.3px;"></div>
<div class="bar" style="left:88px;top:1120.43px;background:linear-gradient(90deg,#ffffff 0%,#f9fdfb 8%,#eff9f5 16%,#dff3ee 25%,#c9eae4 35%,#b0e1d9 45%,#94d6ce 55%,#78cac1 65%,#5bbdb3 75%,#40afa5 85%,#2ba399 93%,#0b8a80 97.5%);"></div>
<div class="num" style="left:83.4px;top:1121.73px;">190</div>
<div class="nm" style="left:128px;top:1121.83px;">Greenish blue</div>
<div class="dot" style="left:293.1px;top:1120.88px;background:#0b8a80;"></div>
<div class="hl" style="left:277.4px;top:1146.49px;width:24.3px;"></div>
<div class="bar" style="left:88px;top:1139.59px;background:linear-gradient(90deg,#ffffff 0%,#fbfdfe 8%,#f3fafb 16%,#e7f6f7 25%,#d7f0f1 35%,#c4e9eb 45%,#afe2e4 55%,#98dadd 65%,#80d1d5 75%,#69c8cc 85%,#56c0c4 93%,#35b0b5 97.5%);"></div>
<div class="num" style="left:83.4px;top:1140.89px;">191</div>
<div class="nm" style="left:128px;top:1140.99px;">Turquoise green</div>
<div class="dot" style="left:293.1px;top:1140.04px;background:#35b0b5;"></div>
<div class="hl" style="left:277.4px;top:1165.66px;width:24.3px;"></div>
<div class="bar" style="left:88px;top:1158.76px;background:linear-gradient(90deg,#ffffff 0%,#f8fcec 8%,#edf6dd 16%,#dcefcc 25%,#c4e4b8 35%,#aad8a4 45%,#8ecb90 55%,#71bc7d 65%,#55ab6a 75%,#3a9958 85%,#27894b 93%,#0b6a31 97.5%);"></div>
<div class="num" style="left:83.4px;top:1160.06px;">200</div>
<div class="nm" style="left:128px;top:1160.16px;">Bluish green</div>
<div class="dot" style="left:293.1px;top:1159.21px;background:#0b6a31;"></div>
<div class="hl" style="left:277.4px;top:1184.82px;width:24.3px;"></div>
<div class="bar" style="left:88px;top:1177.92px;background:linear-gradient(90deg,#ffffff 0%,#f9fcf0 8%,#eff9e4 16%,#dff3d6 25%,#caecc6 35%,#b2e5b7 45%,#98dca7 55%,#7cd398 65%,#5fc889 75%,#43bd7b 85%,#2eb370 93%,#0b9f58 97.5%);"></div>
<div class="num" style="left:83.4px;top:1179.22px;">201</div>
<div class="nm" style="left:128px;top:1179.32px;">Veronese green</div>
<div class="dot" style="left:293.1px;top:1178.37px;background:#0b9f58;"></div>
<div class="hl" style="left:277.4px;top:1203.98px;width:189.1px;"></div>
<div class="bar" style="left:88px;top:1197.08px;background:linear-gradient(90deg,#ffffff 0%,#fafce8 8%,#f1f8d6 16%,#e5f2c3 25%,#d5eaae 35%,#c2e199 45%,#add785 55%,#97cc71 65%,#80c05f 75%,#69b24e 85%,#58a742 93%,#3a8f29 97.5%);"></div>
<div class="num" style="left:83.4px;top:1198.38px;">210</div>
<div class="st" style="left:111px;top:1195.08px;">&#x273B;</div>
<div class="nm" style="left:128px;top:1198.48px;">Emerald green</div>
<div class="dot" style="left:293.1px;top:1197.53px;background:#3a8f29;"></div>
<div class="dot" style="left:326.3px;top:1197.53px;background:#3a8f29;"></div>
<div class="dot" style="left:359.4px;top:1197.53px;background:#3a8f29;"></div>
<div class="dot" style="left:392.3px;top:1197.53px;background:#3a8f29;"></div>
<div class="dot" style="left:425px;top:1197.53px;background:#3a8f29;"></div>
<div class="dot" style="left:457.9px;top:1197.53px;background:#3a8f29;"></div>
<div class="hl" style="left:277.4px;top:1223.15px;width:57.5px;"></div>
<div class="bar" style="left:88px;top:1216.25px;background:linear-gradient(90deg,#ffffff 0%,#fcfef7 8%,#f7fbf1 16%,#eff8e9 25%,#e5f3e0 35%,#d8eed6 45%,#cae8cc 55%,#bbe2c2 65%,#abdbb8 75%,#9ad3ae 85%,#8dcca6 93%,#74bf94 97.5%);"></div>
<div class="num" style="left:83.4px;top:1217.55px;">211</div>
<div class="st" style="left:111px;top:1214.25px;">&#x273B;</div>
<div class="nm" style="left:128px;top:1217.65px;">Jade green</div>
<div class="dot" style="left:293.1px;top:1216.7px;background:#74bf94;"></div>
<div class="dot" style="left:326.3px;top:1216.7px;background:#74bf94;"></div>
<div class="hl" style="left:277.4px;top:1242.31px;width:57.5px;"></div>
<div class="bar" style="left:88px;top:1235.41px;background:linear-gradient(90deg,#ffffff 0%,#f9fced 8%,#eef8e0 16%,#def2d0 25%,#c9ebbf 35%,#b1e3ad 45%,#96d99c 55%,#7acf8b 65%,#5ec47b 75%,#42b86c 85%,#2dad60 93%,#0b9748 97.5%);"></div>
<div class="num" style="left:83.4px;top:1236.71px;">220</div>
<div class="st" style="left:111px;top:1233.41px;">&#x273B;</div>
<div class="nm" style="left:128px;top:1236.81px;">Grass green</div>
<div class="dot" style="left:293.1px;top:1235.86px;background:#0b9748;"></div>
<div class="dot" style="left:326.3px;top:1235.86px;background:#0b9748;"></div>
<div class="hl" style="left:277.4px;top:1261.48px;width:24.3px;"></div>
<div class="bar" style="left:88px;top:1254.58px;background:linear-gradient(90deg,#ffffff 0%,#fefeee 8%,#fcfce2 16%,#fbfbd5 25%,#f8f8c6 35%,#f6f6b8 45%,#f3f3aa 55%,#efef9c 65%,#ecec8f 75%,#e8e882 85%,#e4e478 93%,#dddd61 97.5%);"></div>
<div class="num" style="left:83.4px;top:1255.88px;">221</div>
<div class="nm" style="left:128px;top:1255.98px;">Light green</div>
<div class="dot" style="left:293.1px;top:1255.03px;background:#dddd61;"></div>
<div class="hd bx" style="left:629.8px;width:120px;text-align:right;">Boxes of</div>
<div class="hd hn" style="left:763px;">80</div>
<div class="hd hn" style="left:796.2px;">40</div>
<div class="hd hn" style="left:829.3px;">30</div>
<div class="hd hn" style="left:862.2px;">18</div>
<div class="hd hn" style="left:894.9px;">12</div>
<div class="hd hn" style="left:927.8px;">6</div>
<div class="vl" style="left:777.4px;top:101px;height:394.32px;"></div>
<div class="vl" style="left:810.6px;top:101px;height:394.32px;"></div>
<div class="vl" style="left:843.7px;top:101px;height:183.51px;"></div>
<div class="vl" style="left:876.6px;top:101px;height:183.51px;"></div>
<div class="vl" style="left:909.3px;top:101px;height:183.51px;"></div>
<div class="vl" style="left:942.2px;top:101px;height:183.51px;"></div>
<div class="hl" style="left:753.7px;top:130.8px;width:24.3px;"></div>
<div class="bar" style="left:564.3px;top:123.9px;background:linear-gradient(90deg,#ffffff 0%,#fbfce8 8%,#f4f8d7 16%,#ebf2c4 25%,#deeaaf 35%,#cfe19a 45%,#bed786 55%,#accb72 65%,#99be60 75%,#85b04f 85%,#76a342 93%,#5a8b29 97.5%);"></div>
<div class="num" style="left:559.7px;top:125.2px;">225</div>
<div class="nm" style="left:604.3px;top:125.3px;">Moss green</div>
<div class="dot" style="left:769.4px;top:124.35px;background:#5a8b29;"></div>
<div class="hl" style="left:753.7px;top:149.96px;width:57.5px;"></div>
<div class="bar" style="left:564.3px;top:143.06px;background:linear-gradient(90deg,#ffffff 0%,#fbfcec 8%,#f5f7dd 16%,#ebefcc 25%,#dee4b7 35%,#ced7a3 45%,#bcc88e 55%,#a8b779 65%,#94a465 75%,#7d8f52 85%,#6b7d44 93%,#4a5a29 97.5%);"></div>
<div class="num" style="left:559.7px;top:144.36px;">229</div>
<div class="st" style="left:587.3px;top:141.06px;">&#x273B;</div>
<div class="nm" style="left:604.3px;top:144.46px;">Dark green</div>
<div class="dot" style="left:769.4px;top:143.51px;background:#4a5a29;"></div>
<div class="dot" style="left:802.6px;top:143.51px;background:#4a5a29;"></div>
<div class="hl" style="left:753.7px;top:169.13px;width:156.2px;"></div>
<div class="bar" style="left:564.3px;top:162.23px;background:linear-gradient(90deg,#ffffff 0%,#fcfde5 8%,#f8fad3 16%,#f3f7bf 25%,#ecf3aa 35%,#e4ee94 45%,#dbe880 55%,#d2e26c 65%,#c7db5a 75%,#bcd348 85%,#b2cc3c 93%,#a0bf1f 97.5%);"></div>
<div class="num" style="left:559.7px;top:163.53px;">230</div>
<div class="st" style="left:587.3px;top:160.23px;">&#x273B;</div>
<div class="nm" style="left:604.3px;top:163.63px;">Yellow green</div>
<div class="dot" style="left:769.4px;top:162.68px;background:#a0bf1f;"></div>
<div class="dot" style="left:802.6px;top:162.68px;background:#a0bf1f;"></div>
<div class="dot" style="left:835.7px;top:162.68px;background:#a0bf1f;"></div>
<div class="dot" style="left:868.6px;top:162.68px;background:#a0bf1f;"></div>
<div class="dot" style="left:901.3px;top:162.68px;background:#a0bf1f;"></div>
<div class="hl" style="left:753.7px;top:188.29px;width:24.3px;"></div>
<div class="bar" style="left:564.3px;top:181.39px;background:linear-gradient(90deg,#ffffff 0%,#fefeed 8%,#fcfce0 16%,#fafad3 25%,#f8f8c4 35%,#f5f5b5 45%,#f2f2a7 55%,#efef98 65%,#ebeb8a 75%,#e6e67d 85%,#e3e373 93%,#dbdb5b 97.5%);"></div>
<div class="num" style="left:559.7px;top:182.69px;">231</div>
<div class="nm" style="left:604.3px;top:182.79px;">Lime green</div>
<div class="dot" style="left:769.4px;top:181.84px;background:#dbdb5b;"></div>
<div class="hl" style="left:753.7px;top:207.46px;width:156.2px;"></div>
<div class="bar" style="left:564.3px;top:200.56px;background:linear-gradient(90deg,#ffffff 0%,#fdfce6 8%,#fcfad5 16%,#fcf8c3 25%,#fbf6b0 35%,#fbf49e 45%,#fcf28c 55%,#fcf17a 65%,#fcef69 75%,#fced58 85%,#fceb4c 93%,#fce72b 97.5%);"></div>
<div class="num" style="left:559.7px;top:201.86px;">240</div>
<div class="st" style="left:587.3px;top:198.56px;">&#x273B;</div>
<div class="nm" style="left:604.3px;top:201.96px;">Lemon yellow</div>
<div class="dot" style="left:769.4px;top:201.01px;background:#fce72b;"></div>
<div class="dot" style="left:802.6px;top:201.01px;background:#fce72b;"></div>
<div class="dot" style="left:835.7px;top:201.01px;background:#fce72b;"></div>
<div class="dot" style="left:868.6px;top:201.01px;background:#fce72b;"></div>
<div class="dot" style="left:901.3px;top:201.01px;background:#fce72b;"></div>
<div class="hl" style="left:753.7px;top:226.62px;width:123.5px;"></div>
<div class="bar" style="left:564.3px;top:219.72px;background:linear-gradient(90deg,#ffffff 0%,#fdfbe3 8%,#fbf7d0 16%,#faf4bc 25%,#f9efa7 35%,#f8eb92 45%,#f7e67e 55%,#f6e26a 65%,#f5dd57 75%,#f3d845 85%,#f2d438 93%,#efcb15 97.5%);"></div>
<div class="num" style="left:559.7px;top:221.02px;">245</div>
<div class="st" style="left:587.3px;top:217.72px;">&#x273B;</div>
<div class="nm" style="left:604.3px;top:221.12px;">Light olive</div>
<div class="dot" style="left:769.4px;top:220.17px;background:#efcb15;"></div>
<div class="dot" style="left:802.6px;top:220.17px;background:#efcb15;"></div>
<div class="dot" style="left:835.7px;top:220.17px;background:#efcb15;"></div>
<div class="dot" style="left:868.6px;top:220.17px;background:#efcb15;"></div>
<div class="hl" style="left:753.7px;top:245.78px;width:90.6px;"></div>
<div class="bar" style="left:564.3px;top:238.88px;background:linear-gradient(90deg,#ffffff 0%,#fcfae7 8%,#f9f5d5 16%,#f4edc2 25%,#eee5ad 35%,#e7db99 45%,#e0d085 55%,#d7c472 65%,#cdb860 75%,#c3ab4f 85%,#b9a143 93%,#a78c29 97.5%);"></div>
<div class="num" style="left:559.7px;top:240.18px;">249</div>
<div class="st" style="left:587.3px;top:236.88px;">&#x273B;</div>
<div class="nm" style="left:604.3px;top:240.28px;">Olive</div>
<div class="dot" style="left:769.4px;top:239.33px;background:#a78c29;"></div>
<div class="dot" style="left:802.6px;top:239.33px;background:#a78c29;"></div>
<div class="dot" style="left:835.7px;top:239.33px;background:#a78c29;"></div>
<div class="hl" style="left:753.7px;top:264.95px;width:24.3px;"></div>
<div class="bar" style="left:564.3px;top:258.05px;background:linear-gradient(90deg,#ffffff 0%,#fdfdeb 8%,#fdfbdd 16%,#fcf9cf 25%,#fbf7c0 35%,#fbf5b1 45%,#faf3a3 55%,#faf194 65%,#faef86 75%,#f9ed79 85%,#f9eb6f 93%,#f7e755 97.5%);"></div>
<div class="num" style="left:559.7px;top:259.35px;">250</div>
<div class="nm" style="left:604.3px;top:259.45px;">Canary yellow</div>
<div class="dot" style="left:769.4px;top:258.5px;background:#f7e755;"></div>
<div class="hl" style="left:753.7px;top:284.11px;width:189.1px;"></div>
<div class="bar" style="left:564.3px;top:277.21px;background:linear-gradient(90deg,#ffffff 0%,#f8f7fc 8%,#edecf7 16%,#dddff1 25%,#c7d0ea 35%,#afc0e2 45%,#95b0da 55%,#7a9fd1 65%,#5e8fc7 75%,#437fbc 85%,#2e73b3 93%,#0b5a9f 97.5%);"></div>
<div class="num" style="left:559.7px;top:278.51px;">260</div>
<div class="st" style="left:587.3px;top:275.21px;">&#x273B;</div>
<div class="nm" style="left:604.3px;top:278.61px;">Blue</div>
<div class="dot" style="left:769.4px;top:277.66px;background:#0b5a9f;"></div>
<div class="dot" style="left:802.6px;top:277.66px;background:#0b5a9f;"></div>
<div class="dot" style="left:835.7px;top:277.66px;background:#0b5a9f;"></div>
<div class="dot" style="left:868.6px;top:277.66px;background:#0b5a9f;"></div>
<div class="dot" style="left:901.3px;top:277.66px;background:#0b5a9f;"></div>
<div class="dot" style="left:934.2px;top:277.66px;background:#0b5a9f;"></div>
<div class="hl" style="left:753.7px;top:303.28px;width:24.3px;"></div>
<div class="bar" style="left:564.3px;top:296.38px;background:linear-gradient(90deg,#ffffff 0%,#fbf4ec 8%,#f8e8df 16%,#f6dbd2 25%,#f4cbc4 35%,#f2bcb7 45%,#f1abaa 55%,#ef9b9e 65%,#ee8b93 75%,#ed7a89 85%,#eb6d81 93%,#e7516b 97.5%);"></div>
<div class="num" style="left:559.7px;top:297.68px;">270</div>
<div class="nm" style="left:604.3px;top:297.78px;">Raspberry red</div>
<div class="dot" style="left:769.4px;top:296.83px;background:#e7516b;"></div>
<div class="hl" style="left:753.7px;top:322.44px;width:24.3px;"></div>
<div class="bar" style="left:564.3px;top:315.54px;background:linear-gradient(90deg,#ffffff 0%,#fbf1e9 8%,#f7e3db 16%,#f4d2cb 25%,#f1bfbc 35%,#efabad 45%,#ee97a0 55%,#ec8393 65%,#eb6f86 75%,#ea5b7b 85%,#e84b73 93%,#e3295b 97.5%);"></div>
<div class="num" style="left:559.7px;top:316.84px;">280</div>
<div class="nm" style="left:604.3px;top:316.94px;">Ruby red</div>
<div class="dot" style="left:769.4px;top:315.99px;background:#e3295b;"></div>
<div class="hl" style="left:753.7px;top:341.6px;width:24.3px;"></div>
<div class="bar" style="left:564.3px;top:334.7px;background:linear-gradient(90deg,#ffffff 0%,#f9fcf2 8%,#eff9e7 16%,#dff3da 25%,#caeccc 35%,#b1e4bd 45%,#97dbae 55%,#7bd19f 65%,#5ec691 75%,#43ba83 85%,#2eaf77 93%,#0b9a60 97.5%);"></div>
<div class="num" style="left:559.7px;top:336px;">290</div>
<div class="nm" style="left:604.3px;top:336.1px;">Empire green</div>
<div class="dot" style="left:769.4px;top:335.15px;background:#0b9a60;"></div>
<div class="hl" style="left:753.7px;top:360.77px;width:24.3px;"></div>
<div class="bar" style="left:564.3px;top:353.87px;background:linear-gradient(90deg,#ffffff 0%,#fffffd 8%,#fefefc 16%,#fdfdfa 25%,#fcfcf8 35%,#fafaf5 45%,#f8f8f2 55%,#f6f6ef 65%,#f4f3ec 75%,#f1f1e9 85%,#efeee6 93%,#ebeae0 97.5%);"></div>
<div class="num" style="left:559.7px;top:355.17px;">402</div>
<div class="nm" style="left:604.3px;top:355.27px;">Light beige</div>
<div class="dot" style="left:769.4px;top:354.32px;background:#ebeae0;"></div>
<div class="hl" style="left:753.7px;top:379.93px;width:24.3px;"></div>
<div class="bar" style="left:564.3px;top:373.03px;background:linear-gradient(90deg,#ffffff 0%,#fefefb 8%,#fcfcf8 16%,#faf9f3 25%,#f6f5ee 35%,#f2f0e7 45%,#eceae0 55%,#e7e4d9 65%,#e0ddd1 75%,#d9d6c9 85%,#d3cfc2 93%,#c7c3b4 97.5%);"></div>
<div class="num" style="left:559.7px;top:374.33px;">403</div>
<div class="nm" style="left:604.3px;top:374.43px;">Beige</div>
<div class="dot" style="left:769.4px;top:373.48px;background:#c7c3b4;"></div>
<div class="hl" style="left:753.7px;top:399.1px;width:24.3px;"></div>
<div class="bar" style="left:564.3px;top:392.2px;background:linear-gradient(90deg,#ffffff 0%,#fdfdfb 8%,#faf9f6 16%,#f5f3f0 25%,#eeece7 35%,#e6e3dd 45%,#ddd8d2 55%,#d2cdc7 65%,#c6c0ba 75%,#b8b2ac 85%,#ada6a0 93%,#97908a 97.5%);"></div>
<div class="num" style="left:559.7px;top:393.5px;">405</div>
<div class="nm" style="left:604.3px;top:393.6px;">Cocoa</div>
<div class="dot" style="left:769.4px;top:392.65px;background:#97908a;"></div>
<div class="hl" style="left:753.7px;top:418.26px;width:24.3px;"></div>
<div class="bar" style="left:564.3px;top:411.36px;background:linear-gradient(90deg,#ffffff 0%,#fdfbfd 8%,#f8f5f8 16%,#f1edf2 25%,#e7e1e8 35%,#dbd3dd 45%,#cec4cf 55%,#beb4c1 65%,#ada2b0 75%,#9b8f9e 85%,#8b808e 93%,#6d6270 97.5%);"></div>
<div class="num" style="left:559.7px;top:412.66px;">407</div>
<div class="nm" style="left:604.3px;top:412.76px;">Sepia</div>
<div class="dot" style="left:769.4px;top:411.81px;background:#6d6270;"></div>
<div class="hl" style="left:753.7px;top:437.42px;width:24.3px;"></div>
<div class="bar" style="left:564.3px;top:430.52px;background:linear-gradient(90deg,#ffffff 0%,#fcfafb 8%,#f6f2f4 16%,#ece6ea 25%,#dfd6dd 35%,#d0c4cd 45%,#beafba 55%,#a99aa5 65%,#92828f 75%,#796a76 85%,#645661 93%,#3a3038 97.5%);"></div>
<div class="num" style="left:559.7px;top:431.82px;">409</div>
<div class="nm" style="left:604.3px;top:431.92px;">Charcoal grey</div>
<div class="dot" style="left:769.4px;top:430.97px;background:#3a3038;"></div>
<div class="hl" style="left:753.7px;top:456.59px;width:24.3px;"></div>
<div class="bar" style="left:564.3px;top:449.69px;background:linear-gradient(90deg,#ffffff 0%,#fdfde3 8%,#fbfbd0 16%,#faf9bd 25%,#f8f6a7 35%,#f6f492 45%,#f4f17d 55%,#f1ee69 65%,#efeb56 75%,#ece744 85%,#e9e437 93%,#e3dd15 97.5%);"></div>
<div class="num" style="left:559.7px;top:450.99px;">470</div>
<div class="nm" style="left:604.3px;top:451.09px;">Spring green</div>
<div class="dot" style="left:769.4px;top:450.14px;background:#e3dd15;"></div>
<div class="hl" style="left:753.7px;top:475.75px;width:57.5px;"></div>
<div class="bar" style="left:564.3px;top:468.85px;background:linear-gradient(90deg,#ffffff 0%,#fefefe 8%,#fcfcfd 16%,#faf9fb 25%,#f6f6f8 35%,#f1f1f4 45%,#ecedf0 55%,#e6e7ec 65%,#e0e2e7 75%,#d9dbe2 85%,#d3d6dd 93%,#c8ccd4 97.5%);"></div>
<div class="num" style="left:559.7px;top:470.15px;">498</div>
<div class="st" style="left:587.3px;top:466.85px;">&#x273B;</div>
<div class="nm" style="left:604.3px;top:470.25px;">Silver</div>
<div class="dot" style="left:769.4px;top:469.3px;background:#c8ccd4;"></div>
<div class="dot" style="left:802.6px;top:469.3px;background:#c8ccd4;"></div>
<div class="hl" style="left:753.7px;top:494.92px;width:57.5px;"></div>
<div class="bar" style="left:564.3px;top:488.02px;background:linear-gradient(90deg,#ffffff 0%,#fdfbed 8%,#faf6e0 16%,#f7f0d2 25%,#f3e9c2 35%,#efe1b3 45%,#ead8a4 55%,#e5cf95 65%,#dfc687 75%,#d8bc7a 85%,#d3b470 93%,#c7a458 97.5%);"></div>
<div class="num" style="left:559.7px;top:489.32px;">499</div>
<div class="st" style="left:587.3px;top:486.02px;">&#x273B;</div>
<div class="nm" style="left:604.3px;top:489.42px;">Gold</div>
<div class="dot" style="left:769.4px;top:488.47px;background:#c7a458;"></div>
<div class="dot" style="left:802.6px;top:488.47px;background:#c7a458;"></div>
</body></html>
